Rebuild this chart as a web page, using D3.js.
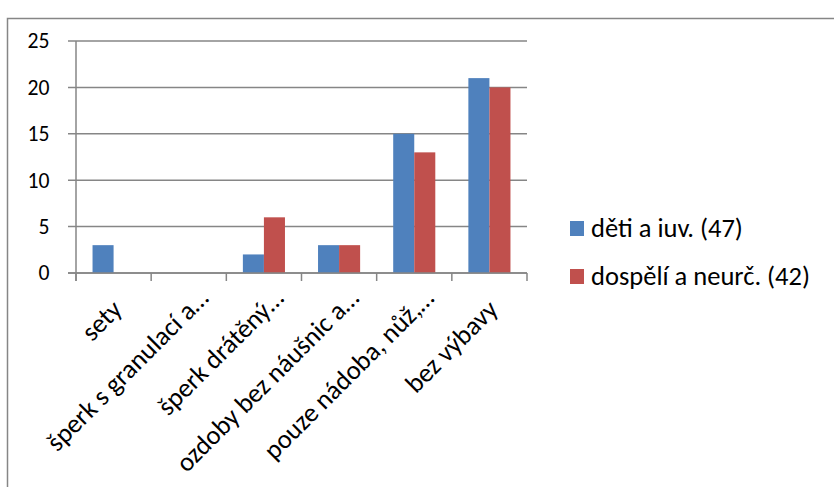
<!DOCTYPE html>
<html><head><meta charset="utf-8">
<script src="https://cdn.jsdelivr.net/npm/d3@7"></script>
<style>body{margin:0;background:#fff}svg{display:block}text{font-family:Carlito,Lato,"Open Sans",sans-serif;fill:#000}</style>
</head><body><svg id="c" width="834" height="487"></svg>
<script>
const categories = ["sety","šperk s granulací a…","šperk drátěný…","ozdoby bez náušnic a…","pouze nádoba, nůž,…","bez výbavy"];
const seriesNames = ["děti a iuv. (47)","dospělí a neurč. (42)"];
const deti = [3,0,2,3,15,21];
const dospeli = [0,0,6,3,13,20];
const yTicks = [0,5,10,15,20,25];
const colors = ["#4F81BD","#C0504D"];

const svg = d3.select("#c");
function fitSize(str, target){
  const t = svg.append("text").style("font-size","100px").text(str);
  const w = t.node().getComputedTextLength(); t.remove();
  return 100*target/w;
}
const fsMain = fitSize("děti a iuv. (47)",152);
const fsY = fitSize("25",22);

svg.append("rect").attr("x",7.5).attr("y",18.5).attr("width",840).attr("height",500)
  .attr("fill","none").attr("stroke","#868686").attr("stroke-width",1.5);

const L=76, R=527, T=41, B=273;
const x0 = d3.scaleBand().domain(categories).range([L,R]).padding(0);
const x1 = d3.scaleBand().domain([0,1]).range([x0.bandwidth()*0.22, x0.bandwidth()*0.78]).padding(0);
const y = d3.scaleLinear().domain([0,25]).range([B,T]);

const g = svg.append("g");
g.selectAll("line.grid").data(yTicks).enter().append("line")
  .attr("x1",L-8).attr("x2",R).attr("y1",d=>y(d)).attr("y2",d=>y(d))
  .attr("stroke","#868686").attr("stroke-width",1.5);
g.selectAll("text.yl").data(yTicks).enter().append("text")
  .attr("x",49.5).attr("y",d=>y(d)).attr("dy","0.34em").attr("text-anchor","end")
  .style("font-size",fsY+"px").text(d=>d);
const data = categories.map((c,i)=>({c, v:[deti[i],dospeli[i]]}));
const bg = g.selectAll("g.cat").data(data).enter().append("g").attr("transform",d=>`translate(${x0(d.c)},0)`);
bg.selectAll("rect").data(d=>d.v.map((v,k)=>({v,k}))).enter().append("rect")
  .attr("x",d=>x1(d.k)).attr("width",x1.bandwidth())
  .attr("y",d=>y(d.v)).attr("height",d=>y(0)-y(d.v))
  .attr("fill",d=>colors[d.k]);
g.append("line").attr("x1",L).attr("x2",L).attr("y1",T).attr("y2",B+8).attr("stroke","#868686").attr("stroke-width",1.5);
g.append("line").attr("x1",L-8).attr("x2",R).attr("y1",B).attr("y2",B).attr("stroke","#868686").attr("stroke-width",1.5);
const tickX = categories.map(c=>x0(c)).concat([R]);
g.selectAll("line.tk").data(tickX).enter().append("line")
  .attr("x1",d=>d).attr("x2",d=>d).attr("y1",B).attr("y2",B+8).attr("stroke","#868686").attr("stroke-width",1.5);
g.selectAll("text.xl").data(categories).enter().append("text")
  .attr("transform",c=>`translate(${x0(c)+x0.bandwidth()/2+10},${311}) rotate(-45)`)
  .attr("dx",c=>c.endsWith("…")?16:0)
  .attr("text-anchor","end").style("font-size",fsMain+"px").text(c=>c);
const lg = svg.append("g");
seriesNames.forEach((s,i)=>{
  lg.append("rect").attr("x",570).attr("y",221+i*48).attr("width",14).attr("height",15).attr("fill",colors[i]);
  lg.append("text").attr("x",591).attr("y",237+i*48).style("font-size",fsMain+"px").text(s);
});
</script></body></html>
